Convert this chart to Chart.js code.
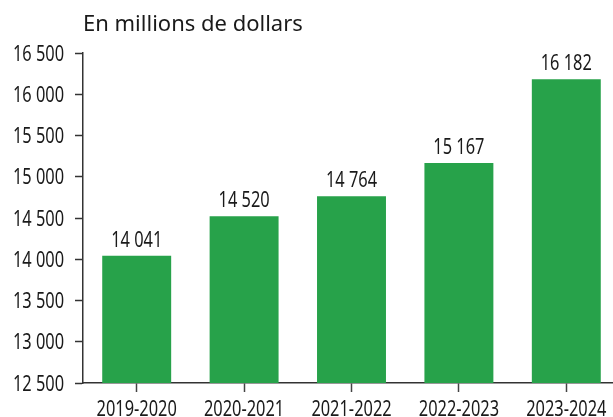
<!DOCTYPE html>
<html>
<head>
<meta charset="utf-8">
<script src="https://cdn.jsdelivr.net/npm/chart.js@4"></script>
<style>
  html, body { margin: 0; padding: 0; background: #fff; overflow: hidden; }
  /* the plot area runs a few pixels past the right edge in the original */
  #wrap { width: 613px; height: 417px; position: relative; overflow: hidden; }
</style>
</head>
<body>
<div id="wrap"><canvas id="chart" width="620" height="417"></canvas></div>
<script>
// Data
const categories = ['2019-2020', '2020-2021', '2021-2022', '2022-2023', '2023-2024'];
const values = [14041, 14520, 14764, 15167, 16182];
const yMin = 12500;
const yMax = 16500;
const yStep = 500;
const subtitle = 'En millions de dollars';

const green = '#27a24a';
const axisColor = '#333333';
const textColor = '#1a1a1a';
const labelFont = "21px 'Noto Sans', sans-serif";
const squeeze = 0.78; // condensed look

function fmt(n) {
    return String(n).replace(/\B(?=(\d{3})+(?!\d))/g, ' ');
}

// draw horizontally condensed text
function narrowText(ctx, text, x, y, align) {
    ctx.save();
    ctx.translate(x, y);
    ctx.scale(squeeze, 1);
    ctx.textAlign = align;
    ctx.fillText(text, 0, 0);
    ctx.restore();
}

// Tick labels, value labels and subtitle
const labelsPlugin = {
    id: 'labels',
    afterDraw(chart) {
        const ctx = chart.ctx;
        const xs = chart.scales.x;
        const ys = chart.scales.y;
        ctx.save();
        ctx.fillStyle = textColor;
        ctx.font = labelFont;
        ctx.textBaseline = 'alphabetic';

        // y tick labels
        ys.ticks.forEach((t, i) => {
            narrowText(ctx, fmt(t.value), 64, ys.getPixelForTick(i) + 7.5, 'right');
        });

        // x tick labels
        xs.ticks.forEach((t, i) => {
            narrowText(ctx, categories[i], xs.getPixelForTick(i), 416, 'center');
        });

        // values above bars
        chart.getDatasetMeta(0).data.forEach((bar, i) => {
            narrowText(ctx, fmt(values[i]), bar.x, bar.y - 9, 'center');
        });

        // subtitle
        ctx.font = "22px 'Noto Sans', sans-serif";
        ctx.textAlign = 'left';
        ctx.fillText(subtitle, 83, 31);
        ctx.restore();
    }
};

new Chart(document.getElementById('chart'), {
    type: 'bar',
    data: {
        labels: categories,
        datasets: [{
            data: values,
            backgroundColor: green,
            borderWidth: 0,
            barPercentage: 0.642,
            categoryPercentage: 1,
        }],
    },
    options: {
        responsive: false,
        animation: false,
        layout: { padding: { top: 53, right: 0, left: 0, bottom: 0 } },
        plugins: {
            legend: { display: false },
            tooltip: { enabled: false },
        },
        scales: {
            x: {
                grid: { drawOnChartArea: false, offset: false, tickLength: 9, color: '#444', tickWidth: 1.5 },
                border: { display: true, color: axisColor, width: 1.5 },
                ticks: { color: 'transparent', font: { size: 19 }, maxRotation: 0, autoSkip: false },
                afterFit(scale) { scale.height = 34; },
            },
            y: {
                min: yMin,
                max: yMax,
                grid: { drawOnChartArea: false, tickLength: 8, color: axisColor, tickWidth: 1.5 },
                border: { display: true, color: axisColor, width: 1.5 },
                ticks: {
                    stepSize: yStep,
                    color: 'transparent',
                    font: { size: 19 },
                    callback: (v) => fmt(v),
                },
                afterFit(scale) { scale.width = 83; },
            },
        },
    },
    plugins: [labelsPlugin],
});
</script>
</body>
</html>
